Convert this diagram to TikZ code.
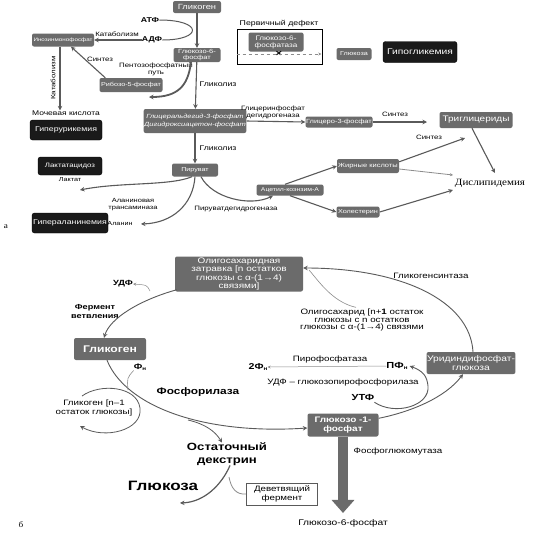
\documentclass[tikz,border=0pt]{standalone}
\usepackage{fontspec}
\setmainfont{Liberation Sans}[FakeStretch=1.25]
\newfontfamily\serifcyr{Liberation Serif}[FakeStretch=1.15]
\usetikzlibrary{arrows.meta}
\definecolor{boxgray}{HTML}{6B6B6B}
\definecolor{blkbox}{HTML}{1A1A1A}
\definecolor{arrgray}{HTML}{5A5A5A}
\definecolor{linegray}{HTML}{8C8C8C}
\newcommand\sz[2]{\fontsize{#1}{#2}\selectfont}
\newcommand\Fsub{Ф\raisebox{-1pt}{\sz{5}{5}н}}
\begin{document}
\begin{tikzpicture}[x=1pt,y=-1pt,
  gbox/.style={fill=boxgray, rounded corners=2pt, text=white, align=center, inner sep=0.5pt},
  kbox/.style={fill=blkbox, draw=black, rounded corners=2.5pt, text=white, align=center, inner sep=0.5pt},
  lbl/.style={align=center, text=black, inner sep=0pt},
  arr/.style={draw=arrgray, line width=1.1pt, -{Stealth[length=4.5pt,width=4.5pt]}},
  tarr/.style={draw=linegray, line width=0.5pt, -{Stealth[length=3pt,width=3pt]}},
  tline/.style={draw=linegray, line width=0.6pt},
  small/.style={font=\sz{6.3}{7}},
  blab/.style={font=\sz{7.8}{8.5}}]
\useasboundingbox (0,0) rectangle (544,542);
\fill[white] (0,0) rectangle (544,542);

% ================= part a =================
\node[gbox, minimum width=48pt, minimum height=12pt, font=\sz{7.5}{8}] (glyc) at (197,7) {Гликоген};
\node[lbl, font=\bfseries\sz{7}{8}] (atf) at (150,20) {АТФ};
\node[lbl, font=\bfseries\sz{7}{8}] (adf) at (152,40) {АДФ};
\node[gbox, minimum width=62pt, minimum height=13pt, font=\sz{5}{6}] (imf) at (63,40) {Инозинмонофосфат};
\node[gbox, minimum width=47pt, minimum height=14pt, font=\sz{6}{6.3}] (g6p) at (197,55) {Глюкозо-6-\\фосфат};
\node[gbox, minimum width=63pt, minimum height=14pt, font=\sz{5.8}{7}] (r5p) at (131,85) {Рибозо-5-фосфат};
\node[gbox, minimum width=94pt, minimum height=24pt, font=\itshape\sz{6}{7.5}] (gap) at (195,121) {Глицеральдегид-3-фосфат\\Дигидроксиацетон-фосфат};
\node[gbox, minimum width=46pt, minimum height=13pt, font=\sz{5.7}{7}] (pyr) at (195,170) {Пируват};
\node[gbox, minimum width=67pt, minimum height=11pt, font=\sz{6}{7}] (g3p) at (339,122) {Глицеро-3-фосфат};
\node[gbox, minimum width=73pt, minimum height=16pt, font=\sz{8}{9}] (tg) at (476,120) {Триглицериды};
\node[gbox, minimum width=62pt, minimum height=14pt, font=\sz{6}{7}] (fa) at (368,166) {Жирные кислоты};
\node[gbox, minimum width=67pt, minimum height=11pt, font=\sz{5.5}{6}] (acoa) at (290,190) {Ацетил-коэнзим-А};
\node[gbox, minimum width=43pt, minimum height=11pt, font=\sz{5.8}{6}] (chol) at (358,212) {Холестерин};
\node[lbl, font=\serifcyr\sz{9.6}{11}] (dysl) at (490,183) {Дислипидемия};
\node[kbox, minimum width=72pt, minimum height=20pt, font=\sz{7}{8}] (hu) at (66,130) {Гиперурикемия};
\node[kbox, minimum width=64pt, minimum height=18pt, font=\sz{6.3}{7}] (la) at (70,166) {Лактатацидоз};
\node[kbox, minimum width=76pt, minimum height=20pt, font=\sz{7}{8}] (ha) at (70,223) {Гипераланинемия};

\node[lbl, font=\sz{6.8}{7.5}] (uric) at (66,113) {Мочевая кислота};
\node[lbl, font=\sz{5.8}{6.5}] (lact) at (70,180) {Лактат};
\node[lbl, font=\sz{5.8}{6.5}] (ala) at (120,224) {Аланин};
\node[lbl, font=\sz{6}{7}] (alat) at (133,205) {Аланиновая\\трансаминаза};
\node[lbl, small] (pdh) at (236,209) {Пируватдегидрогеназа};
\node[lbl, font=\sz{7}{8}] (gl1) at (218,84) {Гликолиз};
\node[lbl, font=\sz{7}{8}] (gl2) at (218,148) {Гликолиз};
\node[lbl, small] (gpdh) at (273,112) {Глицеринфосфат\\дегидрогеназа};
\node[lbl, small] (syn1) at (395,114) {Синтез};
\node[lbl, small] (syn2) at (429,137) {Синтез};
\node[lbl, small] (syn3) at (100,59) {Синтез};
\node[lbl, small] (ppp) at (156,69) {Пентозофосфатный\\путь};
\node[lbl, small] (cat1) at (117,34) {Катаболизм};
\node[lbl, small, rotate=90] (cat2) at (53,78) {Катаболизм};
\node[lbl, font=\serifcyr\sz{8}{9}] (la_a) at (6,227) {а};

% primary defect
\node[lbl, font=\sz{7}{8}] (pdef) at (279,24) {Первичный дефект};
\node[draw=black, line width=0.6pt, minimum width=85pt, minimum height=35pt, inner sep=0pt] (frame) at (279.5,46.5) {};
\node[gbox, minimum width=55pt, minimum height=19pt, font=\sz{6.5}{7}] (g6pase) at (276,42) {Глюкозо-6-\\фосфатаза};
\node[lbl, font=\bfseries\sz{9}{9}] (xm) at (279,54) {×};
\coordinate (dl) at (frame.west |- xm);
\coordinate (dr) at ([xshift=-1pt]frame.east |- xm);
\draw[draw=linegray, dashed, line width=0.7pt, -{Stealth[length=3pt,width=3pt]}] (dl) -- (dr);
\node[gbox, minimum width=35pt, minimum height=12pt, font=\sz{5.8}{6}] (glc) at (354,54) {Глюкоза};
\node[kbox, minimum width=74pt, minimum height=21pt, font=\sz{8.2}{9}] (hg) at (420,52) {Гипогликемия};

% edges a
\draw[arr] (glyc) -- (g6p);
\draw[draw=arrgray, line width=1pt] (atf.east) .. controls (203,20) and (203,40) .. (adf.east);
\draw[arr] (adf.west) -- (imf.east);
\draw[arr] ([xshift=-3pt]imf.south) -- ([xshift=-3pt]imf.south |- uric.north);
\draw[arr] ([xshift=6pt]r5p.north west) -- ([xshift=8pt]imf.south);
\coordinate (pppend) at (149,97);
\draw[arr, line width=1.8pt] ([xshift=-6pt]g6p.south) .. controls (188,86) and (178,97) .. (pppend);
\draw[arr] (g6p) -- (gap);
\draw[arr] (gap) -- (pyr);
\draw[arr] (gap.east) -- (g3p.west);
\coordinate (tgin) at (427,122);
\draw[arr] (g3p.east) -- (tgin);
\coordinate (tgin2) at (465,138);
\draw[arr] ([yshift=-3pt]fa.north east) -- (tgin2);
\coordinate (dy1) at (495,173);
\draw[arr] ([xshift=-4pt]tg.south) -- (dy1);
\coordinate (dy2) at (453,175);
\draw[tarr, line width=0.8pt] ([yshift=-3pt]fa.east) -- (dy2);
\coordinate (dy3) at (453,190);
\draw[arr] (chol.east) -- (dy3);
\draw[arr] ([xshift=-5pt]acoa.north) -- (fa.west);
\draw[arr] (acoa.south) -- (chol.west);
\draw[arr] ([xshift=6pt]pyr.south) .. controls (212,198) and (250,207) .. ([xshift=-17pt]acoa.south);
\coordinate (lc) at (80,190);
\draw[arr] ([xshift=-3pt]pyr.south) .. controls (170,186) and (120,182) .. (lc);
\coordinate (alc) at (141,224);
\draw[arr] (pyr.south) .. controls (193,205) and (172,223) .. (alc);

% ================= part b =================
\node[gbox, minimum width=128pt, minimum height=35pt, font=\sz{8}{8.6}] (olig) at (239,274) {Олигосахаридная\\затравка [n остатков\\глюкозы с α-(1→4)\\связями]};
\node[gbox, minimum width=72pt, minimum height=22pt, font=\bfseries\sz{9.7}{11}] (glyb) at (110,349) {Гликоген};
\node[gbox, minimum width=87pt, minimum height=22pt, font=\sz{8.2}{9.5}] (udpg) at (471,363) {Уридиндифосфат-\\глюкоза};
\node[gbox, minimum width=71pt, minimum height=23pt, font=\bfseries\sz{8}{8.6}] (g1p) at (343,425) {Глюкозо -1-\\фосфат};
\node[lbl, font=\sz{8.2}{9}] (g6pb) at (343,523) {Глюкозо-6-фосфат};
\draw[line width=10pt, draw=boxgray, -{Triangle[width=22pt,length=13pt]}] (g1p.south) -- ([yshift=6pt]g6pb.north);
\node[lbl, blab] (pgm) at (398,451) {Фосфоглюкомутаза};

\node[lbl, font=\bfseries\sz{7.5}{8}] (udf) at (123,284) {УДФ};
\coordinate (udfs) at (150,291);
\draw[tarr] (udfs) .. controls (147,285) .. (udf.east);
\node[lbl, font=\bfseries\sz{7.3}{9}] (ferm) at (95,311) {Фермент\\ветвления};
\draw[arr, line width=0.9pt] ([xshift=2pt,yshift=2pt]olig.south west) .. controls (140,300) and (110,318) .. ([xshift=-6pt]glyb.north);

\node[lbl, font=\bfseries\sz{8}{9}] (pn1) at (140,367) {\Fsub};
\node[lbl, font=\bfseries\sz{9.5}{10}] (phos) at (198,392) {Фосфорилаза};
\draw[arr, line width=0.9pt] ([xshift=-3pt]glyb.south) .. controls (125,405) and (200,435) .. ([yshift=-3pt]g1p.west);
\coordinate (pnl) at (128,390);
\draw[tline] (pn1.south west) .. controls (127,378) .. (pnl);

\node[lbl, blab] (gn1) at (94,408) {Гликоген [n–1\\остаток глюкозы]};
\coordinate (lp0) at (82,396);
\coordinate (lp1) at (140,408);
\coordinate (lp2) at (80,426);
\draw[arr, line width=0.8pt] (lp0) .. controls (100,383) and (137,386) .. (lp1) .. controls (143,430) and (105,440) .. (lp2);

\node[lbl, font=\bfseries\sz{10.5}{12.5}] (dextr) at (227,454) {Остаточный\\декстрин};
\coordinate (brs) at (188,420);
\draw[arr, line width=0.8pt] (brs) .. controls (205,424) and (215,431) .. ([xshift=-5pt]dextr.north);
\node[lbl, font=\bfseries\sz{13.6}{15}] (glcb) at (163,486) {Глюкоза};
\coordinate (glce) at (180,503);
\draw[arr, line width=1.2pt] ([xshift=3pt]dextr.south) .. controls (222,484) and (205,502) .. (glce);
\node[draw=arrgray, line width=0.6pt, fill=white, font=\sz{7.8}{8.5}, minimum width=71pt, minimum height=22pt, align=center, inner sep=1pt] (debr) at (282,494) {Деветвящий\\фермент};
\coordinate (dbj) at (229,477);
\draw[tline, line width=0.8pt] (debr.west) .. controls (236,495) and (231,488) .. (dbj);

\node[lbl, font=\bfseries\sz{8.5}{9}] (pn2) at (258,367) {2\Fsub};
\node[lbl, font=\bfseries\sz{8.8}{9}] (ppn) at (397,366) {П\Fsub};
\draw[tarr] (ppn.west) -- (pn2.east);
\node[lbl, blab] (ppase) at (330,359) {Пирофосфатаза};
\node[lbl, blab] (udpgp) at (343,382) {УДФ – глюкозопирофосфорилаза};
\node[lbl, font=\bfseries\sz{8.8}{9}] (utf) at (363,397) {УТФ};
\draw[arr, line width=0.9pt] ([yshift=-5pt]g1p.north east) .. controls (410,412) and (445,398) .. ([xshift=-8pt]udpg.south);
\coordinate (utfm) at (428,386);
\draw[arr, line width=0.9pt] ([yshift=-2pt]utf.south east) .. controls (395,416) and (430,406) .. (utfm) .. controls (427,376) and (423,371) .. ([xshift=2pt]ppn.east);

\node[lbl, blab] (gsyn) at (431,276) {Гликогенсинтаза};
\draw[arr, line width=0.9pt] ([xshift=2pt]udpg.north) .. controls (470,300) and (400,268) .. ([yshift=6pt]olig.east);
\node[lbl, font=\sz{7.8}{7.8}] (olig2) at (362,320) {Олигосахарид [n+\textbf{1} остаток\\глюкозы с n остатков\\глюкозы с α-(1→4) связями};
\coordinate (ol2e) at (309,270);
\draw[tline] ([xshift=-6pt,yshift=1pt]olig2.north) .. controls (332,302) and (318,280) .. (ol2e);

\node[lbl, font=\serifcyr\sz{8}{9}] (lb_b) at (21,525) {б};
\end{tikzpicture}
\end{document}
